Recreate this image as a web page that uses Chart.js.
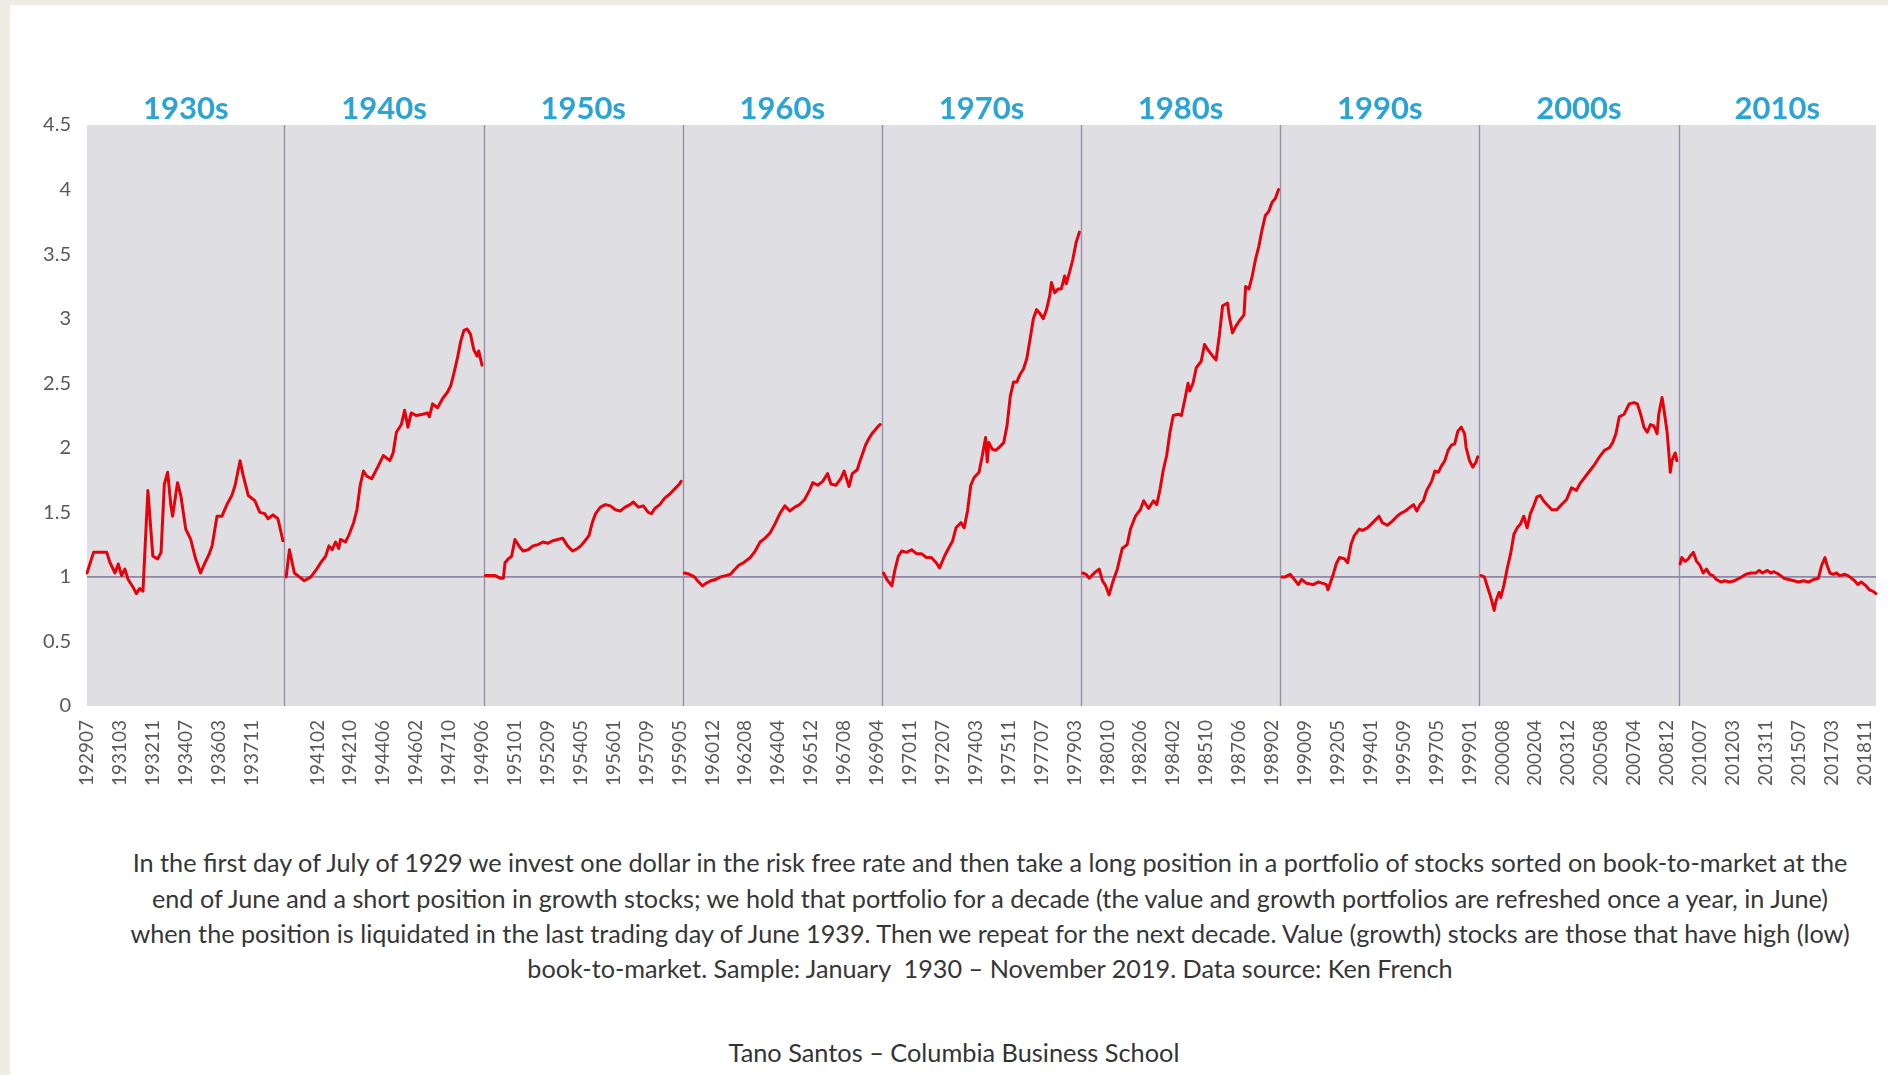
<!DOCTYPE html>
<html><head><meta charset="utf-8">
<script src="https://cdn.jsdelivr.net/npm/chart.js@4.4.1/dist/chart.umd.min.js"></script>
<style>
html,body{margin:0;padding:0;background:#efece4;width:1888px;height:1075px;overflow:hidden;font-family:Lato,'Open Sans',sans-serif;}
#panel{position:absolute;left:10px;top:5px;width:1878px;height:1070px;background:#ffffff;}
#c{position:absolute;left:0;top:0;}
.cap{position:absolute;left:0;width:1980px;text-align:center;white-space:nowrap;color:#363636;line-height:36px;height:36px;}
#foot{position:absolute;left:0;width:1908px;text-align:center;white-space:nowrap;color:#333;line-height:36px;height:36px;top:1034px;}
</style></head><body>
<div id="panel"></div>
<canvas id="c" width="1888" height="820"></canvas>
<div class="cap" style="top:844px">In the first day of July of 1929 we invest one dollar in the risk free rate and then take a long position in a portfolio of stocks sorted on book-to-market at the</div>
<div class="cap" style="top:880px">end of June and a short position in growth stocks; we hold that portfolio for a decade (the value and growth portfolios are refreshed once a year, in June)</div>
<div class="cap" style="top:915px">when the position is liquidated in the last trading day of June 1939. Then we repeat for the next decade. Value (growth) stocks are those that have high (low)</div>
<div class="cap" style="top:950px">book-to-market. Sample: January&nbsp; 1930 – November 2019. Data source: Ken French</div>
<div id="foot">Tano Santos – Columbia Business School</div>
<script>
const decadeNames = ['1930s','1940s','1950s','1960s','1970s','1980s','1990s','2000s','2010s'];
const tickLabels = ['192907','193103','193211','193407','193603','193711',
 '194102','194210','194406','194602','194710','194906',
 '195101','195209','195405','195601','195709','195905',
 '196012','196208','196404','196512','196708','196904',
 '197011','197207','197403','197511','197707','197903',
 '198010','198206','198402','198510','198706','198902',
 '199009','199205','199401','199509','199705','199901',
 '200008','200204','200312','200508','200704','200812',
 '201007','201203','201311','201507','201703','201811'];
const yTicks = [0,0.5,1,1.5,2,2.5,3,3.5,4,4.5];

// [month offset within decade (0 = July of year ending in 9), value]
const v1930 = [[0,1.03],[4,1.19],[12,1.19],[14,1.11],[17,1.03],[19,1.10],[21,1.01],[23,1.06],[25,0.98],[28,0.92],[30,0.87],[32,0.91],[34,0.89],[37,1.67],[40,1.16],[43,1.14],[45,1.19],[47,1.72],[49,1.81],[51,1.55],[52,1.47],[55,1.73],[57,1.63],[60,1.37],[63,1.29],[66,1.14],[69,1.03],[71,1.09],[74,1.17],[76,1.24],[79,1.47],[82,1.47],[85,1.56],[88,1.63],[90,1.71],[93,1.90],[95,1.78],[98,1.63],[102,1.59],[105,1.50],[108,1.49],[110,1.45],[113,1.48],[116,1.45],[118,1.34],[119,1.28]];
const v1940 = [[0,1.00],[2,1.21],[5,1.03],[8,1.00],[11,0.97],[15,1.00],[18,1.05],[21,1.11],[24,1.16],[26,1.24],[28,1.21],[30,1.27],[32,1.22],[33,1.29],[36,1.27],[38,1.32],[41,1.42],[43,1.52],[45,1.71],[47,1.82],[49,1.78],[52,1.76],[56,1.86],[59,1.94],[63,1.90],[65,1.96],[67,2.12],[70,2.18],[72,2.29],[74,2.16],[76,2.27],[79,2.25],[83,2.26],[86,2.27],[87,2.24],[89,2.34],[92,2.31],[95,2.38],[98,2.43],[100,2.48],[102,2.58],[104,2.69],[106,2.82],[108,2.91],[110,2.92],[112,2.88],[114,2.76],[116,2.71],[117,2.75],[119,2.64]];
const v1950 = [[0,1.01],[3,1.01],[6,1.01],[9,0.99],[11,0.99],[12,1.11],[14,1.14],[16,1.16],[18,1.29],[21,1.23],[23,1.20],[26,1.21],[29,1.24],[32,1.25],[35,1.27],[38,1.26],[41,1.28],[44,1.29],[47,1.30],[50,1.24],[53,1.20],[56,1.22],[58,1.24],[60,1.27],[63,1.32],[65,1.42],[67,1.49],[70,1.54],[73,1.56],[76,1.55],[79,1.52],[82,1.51],[85,1.54],[88,1.56],[90,1.58],[93,1.54],[96,1.55],[99,1.50],[101,1.49],[103,1.53],[106,1.56],[109,1.61],[112,1.64],[115,1.68],[118,1.72],[119,1.74]];
const v1960 = [[0,1.03],[3,1.02],[6,1.00],[8,0.97],[11,0.93],[13,0.95],[16,0.97],[19,0.98],[22,1.00],[25,1.01],[28,1.02],[30,1.05],[33,1.09],[36,1.11],[40,1.15],[43,1.20],[46,1.27],[49,1.30],[52,1.34],[55,1.41],[58,1.49],[61,1.55],[64,1.51],[67,1.54],[70,1.56],[73,1.60],[76,1.67],[78,1.73],[81,1.71],[84,1.74],[87,1.80],[89,1.72],[92,1.71],[95,1.76],[97,1.82],[100,1.70],[102,1.80],[105,1.83],[107,1.91],[110,2.02],[112,2.07],[114,2.11],[116,2.14],[118,2.17],[119,2.18]];
const v1970 = [[0,1.03],[2,0.98],[5,0.93],[7,1.06],[9,1.16],[11,1.20],[14,1.19],[17,1.21],[20,1.18],[23,1.18],[26,1.15],[29,1.15],[32,1.11],[34,1.07],[37,1.16],[39,1.21],[42,1.28],[44,1.38],[47,1.42],[49,1.38],[51,1.51],[53,1.71],[55,1.77],[58,1.81],[60,1.94],[62,2.08],[63,1.89],[64,2.04],[66,1.99],[68,1.98],[70,2.00],[73,2.04],[75,2.17],[77,2.40],[79,2.51],[81,2.51],[83,2.57],[85,2.61],[87,2.69],[89,2.84],[91,3.00],[93,3.07],[95,3.04],[97,3.00],[99,3.07],[101,3.18],[102,3.28],[104,3.20],[106,3.23],[108,3.23],[110,3.33],[111,3.27],[113,3.36],[115,3.46],[117,3.59],[119,3.67]];
const v1980 = [[0,1.03],[2,1.02],[4,0.99],[7,1.03],[10,1.06],[12,0.97],[14,0.93],[16,0.86],[18,0.95],[21,1.06],[24,1.22],[27,1.25],[29,1.37],[32,1.47],[35,1.52],[37,1.59],[40,1.53],[43,1.59],[45,1.56],[47,1.68],[49,1.83],[51,1.94],[53,2.12],[55,2.25],[58,2.26],[60,2.25],[62,2.37],[64,2.50],[65,2.44],[67,2.50],[69,2.62],[72,2.67],[74,2.80],[76,2.76],[79,2.71],[81,2.68],[83,2.87],[85,3.10],[88,3.12],[89,3.02],[91,2.89],[93,2.94],[95,2.98],[98,3.03],[99,3.25],[101,3.23],[103,3.33],[105,3.46],[107,3.56],[109,3.69],[111,3.80],[113,3.83],[115,3.90],[117,3.93],[119,4.00]];
const v1990 = [[0,1.00],[2,1.00],[5,1.02],[7,0.99],[10,0.94],[12,0.98],[15,0.95],[19,0.94],[22,0.96],[25,0.95],[27,0.94],[28,0.90],[31,1.01],[33,1.10],[35,1.15],[38,1.14],[40,1.11],[42,1.25],[44,1.32],[47,1.37],[49,1.36],[52,1.38],[56,1.43],[59,1.47],[61,1.42],[64,1.40],[67,1.43],[70,1.47],[72,1.49],[75,1.51],[78,1.54],[80,1.56],[82,1.51],[84,1.56],[86,1.59],[88,1.67],[91,1.74],[93,1.82],[95,1.81],[97,1.86],[99,1.90],[101,1.98],[103,2.02],[105,2.03],[107,2.13],[109,2.16],[111,2.11],[112,2.00],[114,1.90],[116,1.85],[118,1.89],[119,1.93]];
const v2000 = [[0,1.01],[2,1.00],[4,0.92],[6,0.84],[8,0.74],[9,0.81],[11,0.88],[12,0.84],[14,0.94],[16,1.07],[18,1.18],[20,1.33],[22,1.38],[24,1.41],[26,1.47],[28,1.38],[30,1.49],[32,1.55],[34,1.62],[36,1.63],[38,1.59],[40,1.56],[43,1.52],[46,1.52],[49,1.56],[52,1.60],[55,1.69],[58,1.67],[60,1.72],[63,1.77],[66,1.82],[69,1.87],[72,1.93],[75,1.98],[78,2.00],[80,2.04],[82,2.11],[84,2.24],[87,2.26],[90,2.34],[93,2.35],[95,2.34],[97,2.26],[99,2.16],[101,2.12],[103,2.18],[105,2.17],[107,2.11],[108,2.26],[110,2.39],[111,2.31],[113,2.13],[114,1.98],[115,1.81],[116,1.90],[118,1.96],[119,1.90]];
const v2010 = [[0,1.10],[1,1.15],[3,1.12],[5,1.14],[6,1.16],[8,1.19],[10,1.12],[12,1.09],[14,1.03],[16,1.06],[18,1.02],[20,1.01],[22,0.98],[25,0.96],[27,0.97],[30,0.96],[33,0.97],[36,0.99],[40,1.02],[43,1.03],[46,1.03],[48,1.05],[50,1.03],[53,1.05],[55,1.03],[57,1.04],[60,1.02],[63,0.99],[66,0.98],[69,0.97],[72,0.96],[75,0.97],[78,0.96],[81,0.98],[84,0.99],[86,1.09],[88,1.15],[89,1.10],[91,1.03],[93,1.02],[95,1.03],[97,1.01],[100,1.02],[102,1.01],[104,0.99],[106,0.97],[108,0.94],[110,0.96],[113,0.93],[115,0.90],[117,0.89],[119,0.87]];
const decadeSeries = [v1930,v1940,v1950,v1960,v1970,v1980,v1990,v2000,v2010];

// monthly category axis, with one empty category between decades
const categories = [];
(function(){ let yr = 1929, mo = 7;
  for (let d = 0; d < decadeSeries.length; d++) {
    if (d > 0) categories.push('');
    for (let k = 0; k < 120; k++) {
      categories.push(String(yr) + String(mo).padStart(2,'0'));
      mo++; if (mo > 12) { mo = 1; yr++; }
    }
  }
})();
const decadeStart = d => d * 121;
const tickSet = new Set(tickLabels);

const RED = '#e8000a';
const datasets = decadeSeries.map((s, d) => ({
  label: decadeNames[d],
  data: s.map(([o, v]) => ({x: categories[decadeStart(d) + o], y: v})),
  borderColor: RED, borderWidth: 3, pointRadius: 0, tension: 0,
  borderJoinStyle: 'round', borderCapStyle: 'round', fill: false, order: 0
}));
datasets.push({
  label: 'one',
  data: [{x: categories[0], y: 1}, {x: categories[categories.length - 1], y: 1}],
  borderColor: '#8f88a6', borderWidth: 1.6, pointRadius: 0, fill: false, order: 1
});

const decor = {
  id: 'decor',
  beforeDatasetsDraw(chart) {
    const {ctx, chartArea: a, scales: {x}} = chart;
    ctx.save();
    ctx.fillStyle = '#dfdee3';
    ctx.fillRect(a.left, a.top, a.right - a.left, a.bottom - a.top);
    ctx.strokeStyle = '#968fab';
    ctx.lineWidth = 1.4;
    for (let d = 1; d < decadeNames.length; d++) {
      const px = Math.round(x.getPixelForValue(decadeStart(d) - 1)) + 0.5;
      ctx.beginPath(); ctx.moveTo(px, a.top); ctx.lineTo(px, a.bottom); ctx.stroke();
    }
    ctx.restore();
  },
  afterDraw(chart) {
    const {ctx, chartArea: a, scales: {x}} = chart;
    ctx.save();
    ctx.fillStyle = '#2aa3d5';
    ctx.font = 'bold 31px Lato';
    ctx.textAlign = 'center';
    ctx.textBaseline = 'alphabetic';
    for (let d = 0; d < decadeNames.length; d++) {
      const l = d === 0 ? a.left : x.getPixelForValue(decadeStart(d) - 1);
      const r = d === decadeNames.length - 1 ? a.right : x.getPixelForValue(decadeStart(d + 1) - 1);
      ctx.fillText(decadeNames[d], (l + r) / 2, a.top - 6);
    }
    ctx.restore();
  }
};

new Chart(document.getElementById('c'), {
  type: 'line',
  data: {labels: categories, datasets},
  options: {
    responsive: false, animation: false, devicePixelRatio: 1,
    layout: {padding: {top: 125, right: 12, left: 0, bottom: 0}},
    plugins: {legend: {display: false}, tooltip: {enabled: false}},
    scales: {
      x: {
        type: 'category', offset: false,
        grid: {display: false, drawTicks: false}, border: {display: false},
        afterBuildTicks(scale) { scale.ticks = scale.ticks.filter(t => tickSet.has(categories[t.value])); },
        afterFit(scale) { scale.height = 114; scale.paddingLeft = 0; scale.paddingRight = 0; },
        ticks: {autoSkip: false, minRotation: 90, maxRotation: 90, padding: 14,
          color: '#595959', font: {family: 'Lato', size: 19},
          callback(v) { return categories[v]; }}
      },
      y: {
        type: 'linear', min: 0, max: 4.5,
        grid: {display: false, drawTicks: false}, border: {display: false},
        afterBuildTicks(scale) { scale.ticks = yTicks.map(v => ({value: v})); },
        afterFit(scale) { scale.width = 87; },
        ticks: {padding: 16, color: '#595959', font: {family: 'Lato', size: 20},
          callback(v) { return String(v); }}
      }
    }
  },
  plugins: [decor]
});

// fit caption font to the reference line widths
(function(){
  const m = document.createElement('canvas').getContext('2d');
  const caps = document.querySelectorAll('.cap');
  m.font = '20px Lato';
  const w = m.measureText(caps[0].textContent).width;
  const fs = 20 * 1720 / w;
  caps.forEach(c => c.style.fontSize = fs.toFixed(2) + 'px');
  const f = document.getElementById('foot');
  const wf = m.measureText(f.textContent).width;
  f.style.fontSize = (20 * 451 / wf).toFixed(2) + 'px';
})();
</script>
</body></html>
